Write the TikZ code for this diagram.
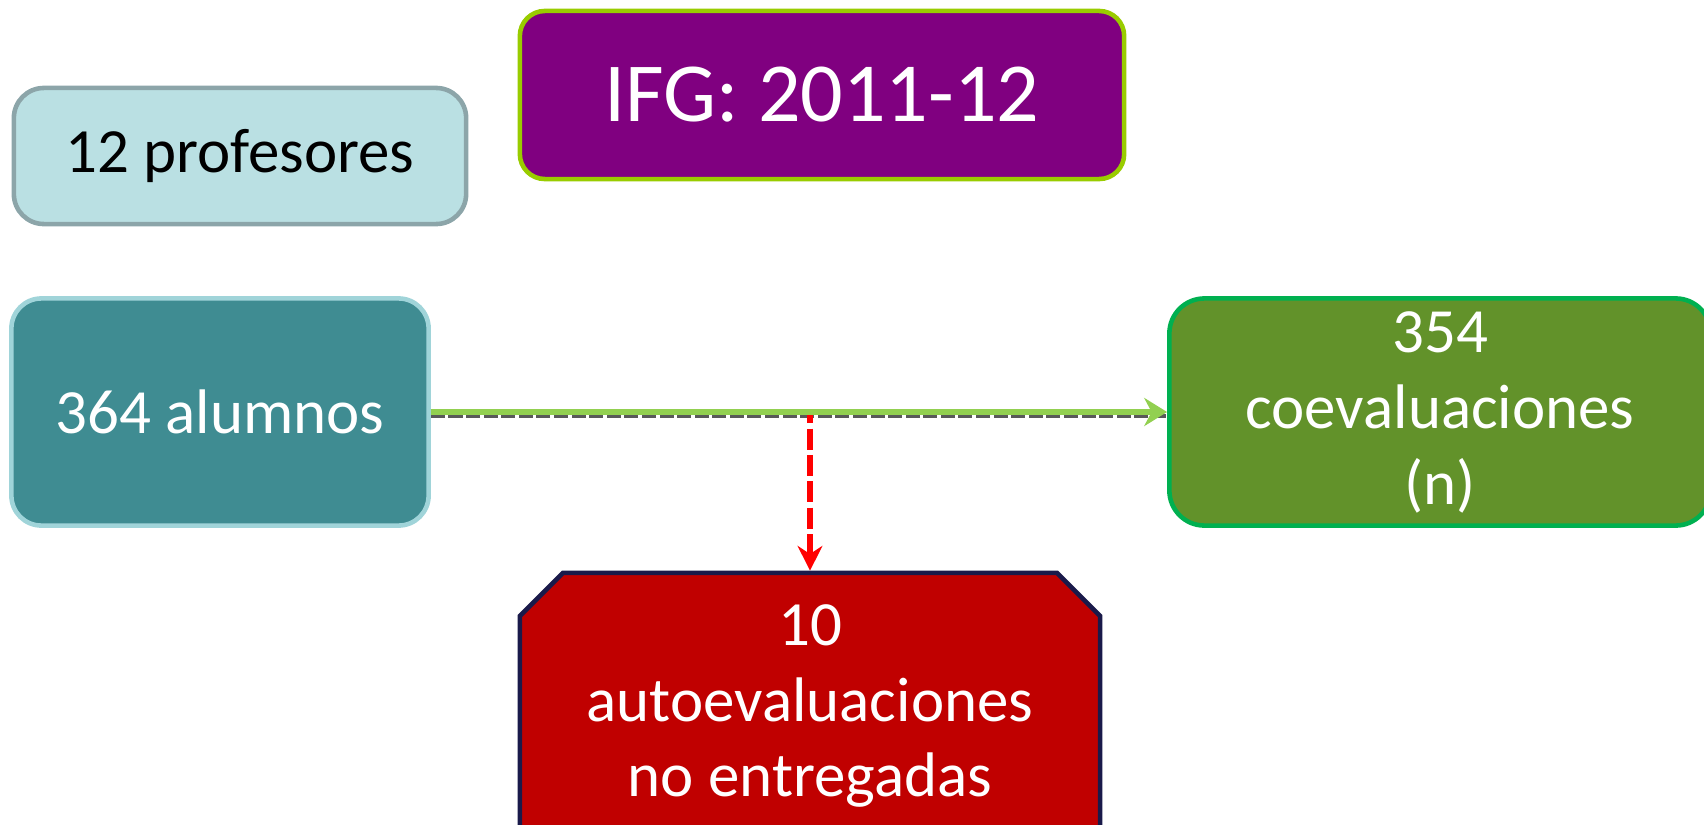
\documentclass[tikz,border=0pt]{standalone}
\usepackage{fontspec}
\setmainfont{Carlito}
\usetikzlibrary{arrows.meta,shapes.misc}

\definecolor{profFill}{HTML}{BAE0E3}
\definecolor{profLine}{HTML}{8CA5A9}
\definecolor{ifgFill}{HTML}{800080}
\definecolor{ifgLine}{HTML}{99CC00}
\definecolor{alumFill}{HTML}{3F8C92}
\definecolor{alumLine}{HTML}{A0D4D9}
\definecolor{coevFill}{HTML}{62922A}
\definecolor{coevLine}{HTML}{00B050}
\definecolor{noentFill}{HTML}{C00000}
\definecolor{noentLine}{HTML}{1A1A4A}
\definecolor{arrGreen}{HTML}{92D050}
\definecolor{arrRed}{HTML}{FF0000}

\tikzset{
  box/.style={draw, line width=1.3pt, align=center, inner sep=0pt,
    font=\fontsize{17.9}{21.6}\selectfont},
  roundbox/.style={box, rounded corners=0.3cm},
  shadowline/.style={black!65, line width=1.2pt, dash pattern=on 4pt off 1pt},
}

\begin{document}
\begin{tikzpicture}[x=0.01cm,y=-0.01cm]
  \useasboundingbox (0,0) rectangle (1704,824);
  \clip (0,0) rectangle (1704,824);

  \node[roundbox, fill=profFill, draw=profLine, minimum width=4.52cm,
    minimum height=1.36cm] (prof) at (240,156) {12 profesores};
  \node[roundbox, fill=ifgFill, draw=ifgLine, text=white, rounded corners=0.25cm,
    minimum width=6.04cm, minimum height=1.68cm,
    font=\fontsize{23.9}{28}\selectfont] (ifg) at (822,95) {IFG: 2011-12};
  \node[roundbox, fill=alumFill, draw=alumLine, text=white, minimum width=4.17cm,
    minimum height=2.27cm] (alum) at (220,412) {364 alumnos};
  \node[roundbox, fill=coevFill, draw=coevLine, text=white, rounded corners=0.35cm,
    minimum width=5.41cm, minimum height=2.27cm] (coev) at (1440,412)
    {354\\coevaluaciones\\(n)};
  \node[box, fill=noentFill, draw=noentLine, text=white, chamfered rectangle,
    chamfered rectangle corners={north west,north east},
    chamfered rectangle xsep=0.22cm, chamfered rectangle ysep=0.21cm,
    minimum width=5.8cm, minimum height=2.66cm] (noent) at (810,706)
    {10\\autoevaluaciones\\no entregadas};

  \coordinate (split) at (noent.north |- alum.east);
  \begin{scope}[line width=1.6pt]
    \draw[shadowline, transform canvas={yshift=-1.2pt}] (alum.east) -- (coev.west);
    \draw[arrRed, dash pattern=on 6pt off 1.5pt,
      -{Stealth[length=7pt,width=7pt]}] (alum.east) -| (noent.north);
    \draw[arrGreen, -{Stealth[length=6.5pt,width=8pt]}] (alum.east) -- (coev.west);
  \end{scope}
\end{tikzpicture}
\end{document}
